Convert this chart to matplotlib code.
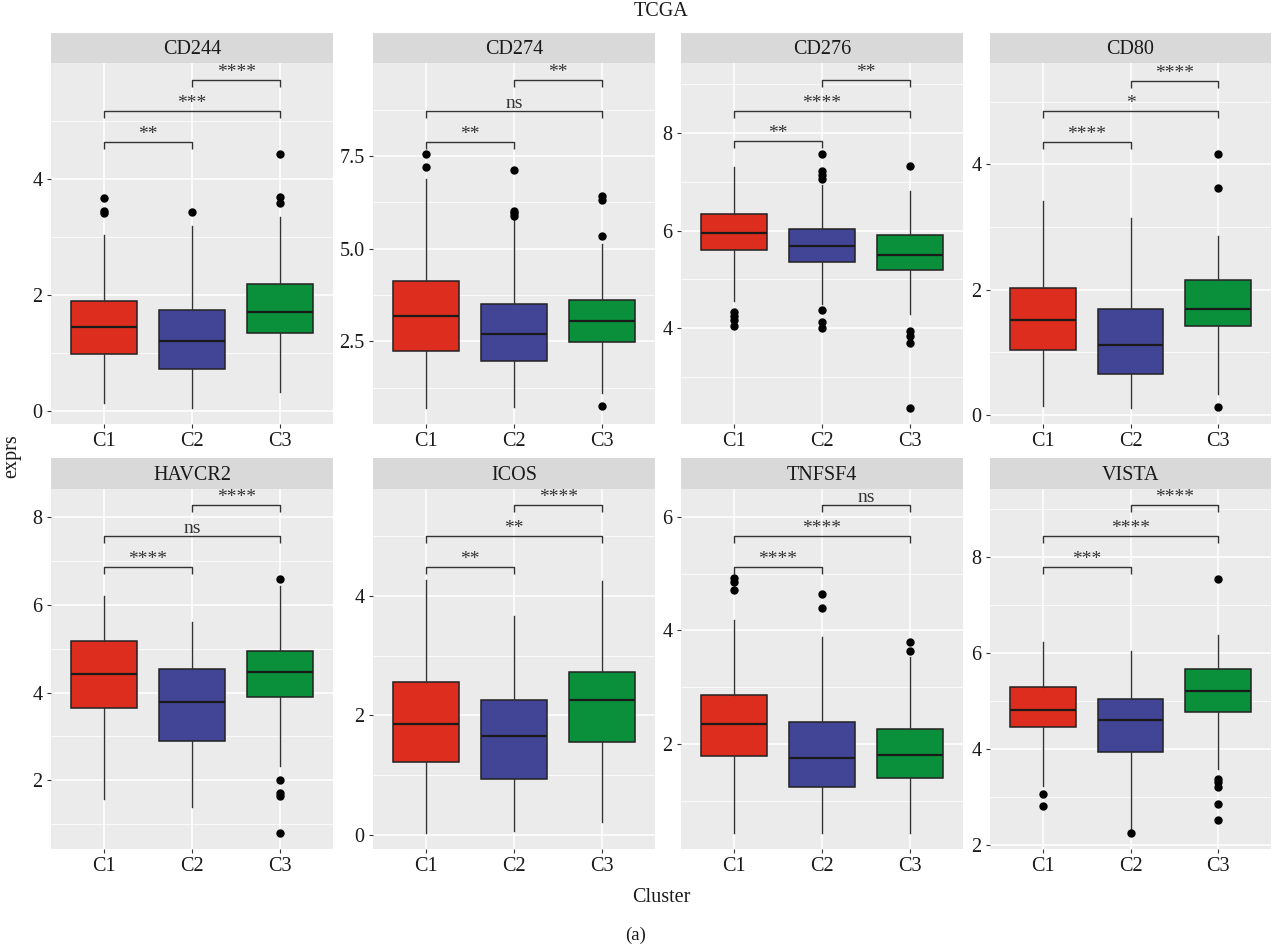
import matplotlib
matplotlib.use('Agg')
import matplotlib.pyplot as plt
from matplotlib.transforms import offset_copy
from matplotlib.ticker import FixedLocator

plt.rcParams['font.family'] = ['Liberation Serif', 'DejaVu Serif']

# ---------------- data ----------------
genes = ['CD244', 'CD274', 'CD276', 'CD80', 'HAVCR2', 'ICOS', 'TNFSF4', 'VISTA']
clusters = ['C1', 'C2', 'C3']
colors = ['#DC2D1E', '#424596', '#0A903B']

q1 = [[0.98, 0.72, 1.34], [2.25, 1.96, 2.49], [5.60, 5.36, 5.20], [1.04, 0.66, 1.42],
      [3.66, 2.90, 3.89], [1.22, 0.94, 1.56], [1.78, 1.25, 1.40], [4.45, 3.94, 4.78]]
median = [[1.45, 1.20, 1.71], [3.19, 2.70, 3.06], [5.96, 5.68, 5.50], [1.51, 1.11, 1.69],
          [4.42, 3.78, 4.47], [1.86, 1.65, 2.25], [2.36, 1.76, 1.80], [4.81, 4.60, 5.21]]
q3 = [[1.90, 1.74, 2.19], [4.13, 3.51, 3.62], [6.35, 6.03, 5.92], [2.02, 1.69, 2.15],
      [5.17, 4.53, 4.95], [2.56, 2.26, 2.72], [2.86, 2.39, 2.26], [5.30, 5.04, 5.67]]
whisker_low = [[0.14, 0.05, 0.33], [0.69, 0.72, 1.10], [4.55, 4.50, 4.29], [0.15, 0.11, 0.34],
               [1.57, 1.40, 2.33], [0.02, 0.06, 0.21], [0.43, 0.44, 0.44], [3.24, 2.30, 3.59]]
whisker_high = [[3.03, 3.19, 3.35], [6.88, 5.80, 5.12], [7.31, 6.93, 6.81], [3.41, 3.15, 2.86],
                [6.20, 5.60, 6.43], [4.27, 3.66, 4.25], [4.18, 3.89, 3.53], [6.23, 6.04, 6.38]]
outliers = [
    [[3.67, 3.45, 3.42], [3.43], [4.43, 3.69, 3.59]],
    [[7.55, 7.21], [7.12, 6.02, 5.95, 5.88], [6.43, 6.31, 5.35, 0.75]],
    [[4.34, 4.25, 4.17, 4.05], [7.57, 7.23, 7.14, 7.07, 4.37, 4.12, 4.00], [7.33, 3.94, 3.83, 3.70, 2.36]],
    [[], [], [4.16, 3.62, 0.13]],
    [[], [], [6.59, 2.00, 1.72, 1.64, 0.79]],
    [[], [], []],
    [[4.92, 4.86, 4.71], [4.64, 4.40], [3.79, 3.63]],
    [[3.07, 2.82], [2.25], [7.54, 3.38, 3.31, 3.21, 2.86, 2.53]],
]
# comparisons: C1-C2, C1-C3, C2-C3
comparisons = [(1, 2), (1, 3), (2, 3)]
bracket_y = [[4.64, 5.17, 5.70], [7.88, 8.72, 9.54], [7.83, 8.46, 9.09], [4.36, 4.85, 5.34],
             [6.87, 7.57, 8.27], [4.49, 5.01, 5.52], [5.12, 5.67, 6.21], [7.79, 8.43, 9.07]]
sig_labels = [['**', '***', '****'], ['**', 'ns', '**'], ['**', '****', '**'], ['****', '*', '****'],
              ['****', 'ns', '****'], ['**', '**', '****'], ['****', '****', 'ns'], ['***', '****', '****']]
y_limits = [(-0.224, 6.0), (0.27, 10.01), (2.035, 9.44), (-0.144, 5.62),
            (0.435, 8.64), (-0.24, 5.79), (0.15, 6.49), (1.92, 9.41)]
y_major = [[0, 2, 4], [2.5, 5.0, 7.5], [4, 6, 8], [0, 2, 4],
           [2, 4, 6, 8], [0, 2, 4], [2, 4, 6], [2, 4, 6, 8]]
y_minor = [[1, 3, 5], [1.25, 3.75, 6.25, 8.75], [3, 5, 7, 9], [1, 3, 5],
           [1, 3, 5, 7], [1, 3, 5], [1, 3, 5], [3, 5, 7, 9]]
y_fmt = ['{:.0f}', '{:.1f}', '{:.0f}', '{:.0f}', '{:.0f}', '{:.0f}', '{:.0f}', '{:.0f}']

# ---------------- layout ----------------
W, H = 1272, 951
fig = plt.figure(figsize=(W / 100, H / 100), dpi=100)
panel_x = [(51, 333), (373, 655), (681, 963), (990, 1271)]
rows = [((33, 63), (63, 424)), ((458, 489), (489, 849))]

TXT = '#1a1a1a'
FS = 14.5

for i, g in enumerate(genes):
    r, c = divmod(i, 4)
    x0, x1 = panel_x[c]
    (s0, s1), (p0, p1) = rows[r]
    ax = fig.add_axes([x0 / W, 1 - p1 / H, (x1 - x0) / W, (p1 - p0) / H])
    sax = fig.add_axes([x0 / W, 1 - s1 / H, (x1 - x0) / W, (s1 - s0) / H])
    sax.set_facecolor('#D9D9D9')
    sax.set_xticks([]); sax.set_yticks([])
    for sp in sax.spines.values():
        sp.set_visible(False)
    sax.text(0.5, 0.45, g, ha='center', va='center', fontsize=FS, color=TXT,
             transform=sax.transAxes)

    ax.set_facecolor('#EBEBEB')
    for sp in ax.spines.values():
        sp.set_visible(False)
    ax.set_xlim(0.4, 3.6)
    ax.set_ylim(*y_limits[i])
    ax.yaxis.set_major_locator(FixedLocator(y_major[i]))
    ax.yaxis.set_minor_locator(FixedLocator(y_minor[i]))
    ax.set_yticklabels([y_fmt[i].format(v) for v in y_major[i]])
    ax.set_xticks([1, 2, 3])
    ax.set_xticklabels(clusters)
    ax.grid(True, which='major', color='white', lw=1.1, zorder=0)
    ax.grid(True, which='minor', axis='y', color='white', lw=0.55, zorder=0)
    ax.set_axisbelow(True)
    ax.tick_params(axis='both', which='major', length=3, width=0.8, color='#333333',
                   labelsize=FS, labelcolor=TXT, pad=3)
    ax.tick_params(axis='y', which='minor', length=0)

    stats = []
    for k in range(3):
        stats.append(dict(q1=q1[i][k], med=median[i][k], q3=q3[i][k],
                          whislo=whisker_low[i][k], whishi=whisker_high[i][k],
                          fliers=outliers[i][k], label=clusters[k]))
    bp = ax.bxp(stats, positions=[1, 2, 3], widths=0.75, patch_artist=True,
                showcaps=False, manage_ticks=False,
                boxprops=dict(edgecolor='#222222', linewidth=1.1),
                medianprops=dict(color='#1a1a1a', linewidth=1.6),
                whiskerprops=dict(color='#333333', linewidth=1.0),
                flierprops=dict(marker='o', markerfacecolor='black', markeredgecolor='black',
                                markersize=5, linestyle='none'))
    for patch, col in zip(bp['boxes'], colors):
        patch.set_facecolor(col)
        patch.set_zorder(2)

    ymin, ymax = y_limits[i]
    tip = 0.0194 * (ymax - ymin)
    lab_tr = offset_copy(ax.transData, fig=fig, x=0, y=3, units='dots')
    for (a, b), yb, lab in zip(comparisons, bracket_y[i], sig_labels[i]):
        ax.plot([a, a, b, b], [yb - tip, yb, yb, yb - tip], color='#333333', lw=1.0,
                solid_capstyle='butt', zorder=3)
        ax.text((a + b) / 2, yb, lab, ha='center', va='baseline', fontsize=FS - 0.5,
                color='#333333', transform=lab_tr, zorder=4)

fig.text(661 / W, 1 - 12 / H, 'TCGA', ha='center', va='center', fontsize=FS, color=TXT)
fig.text(12 / W, 1 - 456 / H, 'exprs', ha='center', va='center', rotation=90,
         fontsize=FS, color=TXT)
fig.text(661 / W, 1 - 897 / H, 'Cluster', ha='center', va='center', fontsize=FS, color=TXT)
fig.text(636 / W, 1 - 935 / H, '(a)', ha='center', va='center', fontsize=FS - 1, color=TXT)

fig.savefig('out.png', dpi=100, facecolor='white')
